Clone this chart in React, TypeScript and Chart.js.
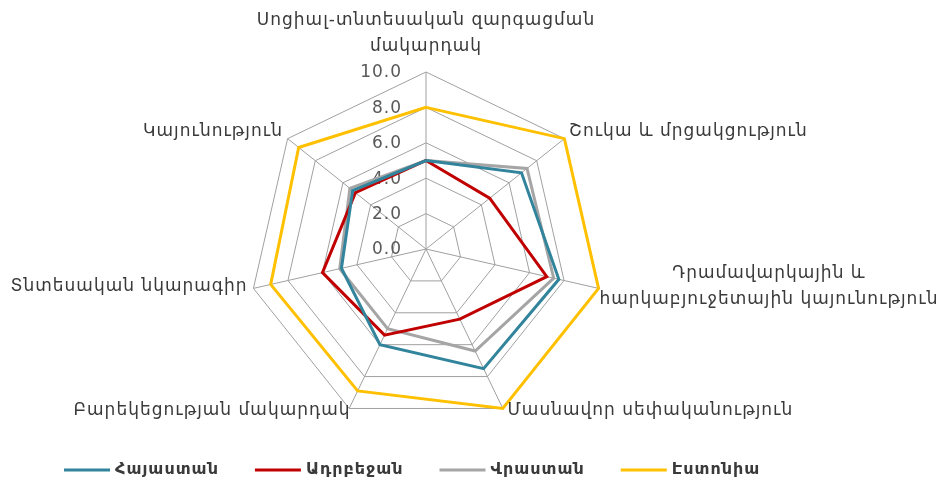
import React, { useEffect, useRef } from "react";
import { Chart, registerables } from "chart.js";

Chart.register(...registerables);

const categories: (string | string[])[] = [
  ["Սոցիալ-տնտեսական զարգացման", "մակարդակ"],
  "Շուկա և մրցակցություն",
  ["Դրամավարկային և", "հարկաբյուջետային կայունություն"],
  "Մասնավոր սեփականություն",
  "Բարեկեցության մակարդակ",
  "Տնտեսական նկարագիր",
  "Կայունություն",
];

const seriesNames = ["Հայաստան", "Ադրբեջան", "Վրաստան", "Էստոնիա"];
const armenia = [5.0, 6.9, 7.7, 7.5, 6.0, 4.9, 5.3];
const azerbaijan = [5.0, 4.6, 7.0, 4.4, 5.4, 6.0, 5.1];
const georgia = [5.0, 7.3, 7.4, 6.4, 5.0, 5.0, 5.5];
const estonia = [8.0, 10.0, 10.0, 10.0, 8.9, 9.0, 9.2];
const seriesColors = ["#31849B", "#C00000", "#A5A5A5", "#FFC000"];
const tickValues = [0, 2, 4, 6, 8, 10];

const FONT = "'DejaVu Sans', sans-serif";

const customPlugin = {
  id: "customDraw",
  beforeDatasetsDraw(chart: any) {
    const ctx = chart.ctx;
    const scale = chart.scales.r;
    ctx.save();
    ctx.font = `17px ${FONT}`;
    (ctx as any).letterSpacing = "1px";
    ctx.fillStyle = "#595959";
    ctx.textAlign = "right";
    ctx.textBaseline = "middle";
    tickValues.forEach((v) => {
      const d = scale.getDistanceFromCenterForValue(v);
      ctx.fillText(v.toFixed(1), scale.xCenter - 24, scale.yCenter - d + 1);
    });
    ctx.restore();
  },
  afterDraw(chart: any) {
    const ctx = chart.ctx;
    const scale = chart.scales.r;
    ctx.save();
    ctx.font = `17px ${FONT}`;
    (ctx as any).letterSpacing = "1px";
    ctx.fillStyle = "#3a3a3a";
    const lineH = 26;
    categories.forEach((lab, i) => {
      const lines = Array.isArray(lab) ? lab : [lab];
      const p = scale.getPointPosition(i, scale.drawingArea + 6);
      const dx = p.x - scale.xCenter;
      const dy = p.y - scale.yCenter;
      ctx.textBaseline = "middle";
      if (Math.abs(dx) < 2) {
        ctx.textAlign = "center";
        const n = lines.length;
        lines.forEach((t, k) => {
          const y = p.y - 19 - (n - 1 - k) * lineH;
          ctx.fillText(t, p.x, y);
        });
      } else {
        const widths = lines.map((t) => ctx.measureText(t).width);
        const maxW = Math.max(...widths);
        const n = lines.length;
        const yMid = p.y - 3;
        lines.forEach((t, k) => {
          const y = yMid + (k - (n - 1) / 2) * lineH;
          ctx.textAlign = "center";
          if (dx > 0) {
            const xOff = dy > 100 ? 2 : n > 1 ? -5 : 0;
            ctx.fillText(t, p.x + xOff + maxW / 2, y);
          } else {
            const xOff = dy > 100 ? 4 : 0;
            ctx.fillText(t, p.x + xOff - maxW / 2, y);
          }
        });
      }
    });

    // legend
    ctx.font = `bold 16px ${FONT}`;
    (ctx as any).letterSpacing = "1px";
    ctx.textAlign = "left";
    ctx.textBaseline = "middle";
    let x = 64;
    const y = 470;
    chart.data.datasets.forEach((ds: any) => {
      ctx.strokeStyle = ds.borderColor;
      ctx.lineWidth = 3;
      ctx.beginPath();
      ctx.moveTo(x, y);
      ctx.lineTo(x + 46, y);
      ctx.stroke();
      ctx.fillStyle = "#3a3a3a";
      ctx.fillText(ds.label, x + 51, y);
      x += 51 + ctx.measureText(ds.label).width + 36;
    });
    ctx.restore();
  },
};

export default function App() {
  const ref = useRef<HTMLCanvasElement>(null);
  useEffect(() => {
    if (!ref.current) return;
    const values = [armenia, azerbaijan, georgia, estonia];
    const chart = new Chart(ref.current, {
      type: "radar",
      data: {
        labels: categories as any,
        datasets: values.map((d, i) => ({
          label: seriesNames[i],
          data: d,
          borderColor: seriesColors[i],
          backgroundColor: seriesColors[i],
          borderWidth: 3,
          fill: false,
          pointRadius: 0,
          pointHoverRadius: 0,
          tension: 0,
        })),
      },
      options: {
        animation: false,
        responsive: false,
        devicePixelRatio: 1,
        layout: { padding: { left: 249, right: 342, top: 72, bottom: 60 } },
        plugins: { legend: { display: false }, tooltip: { enabled: false } },
        scales: {
          r: {
            min: 0,
            max: 10,
            beginAtZero: true,
            ticks: { stepSize: 2, display: false },
            grid: { color: "#A0A0A0", lineWidth: 1 },
            angleLines: { color: "#A0A0A0", lineWidth: 1 },
            pointLabels: { display: false },
          },
        },
      },
      plugins: [customPlugin],
    });
    return () => chart.destroy();
  }, []);
  return (
    <div style={{ position: "absolute", left: 0, top: 0, width: 945, height: 486 }}>
      <canvas ref={ref} width={945} height={486} style={{ display: "block" }} />
    </div>
  );
}
